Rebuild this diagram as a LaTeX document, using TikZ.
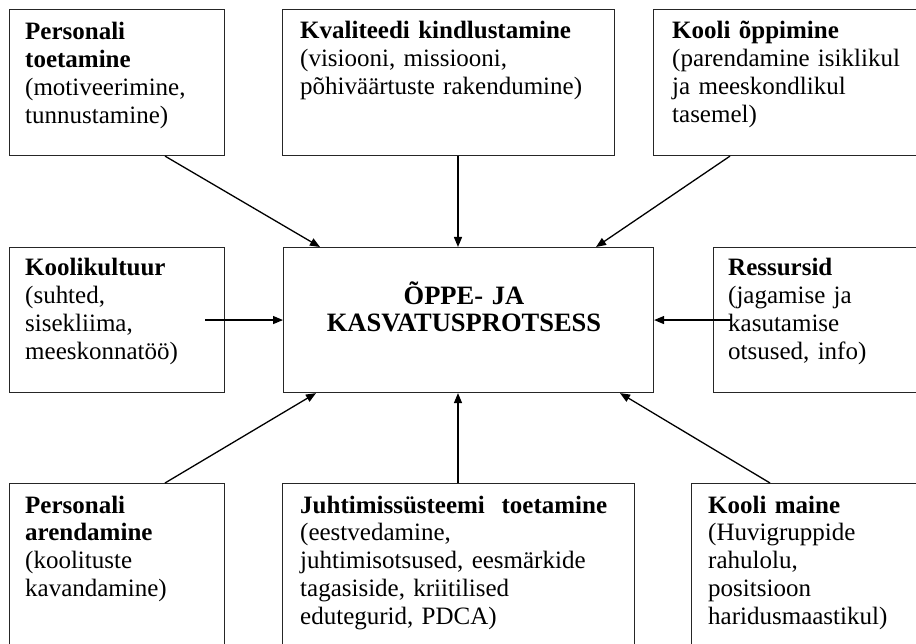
\documentclass[tikz,border=0pt]{standalone}
\usepackage{fontspec}
\setmainfont{Liberation Serif}
\usetikzlibrary{arrows.meta,calc}
\begin{document}
\begin{tikzpicture}[x=1pt,y=-1pt,
  box/.style={draw=black!85, line width=1.1pt, rectangle, inner sep=0pt, anchor=north west},
  lbl/.style={anchor=base west, inner sep=0pt, align=left, text width=340pt, font=\fontsize{25}{27.8}\selectfont},
  arr/.style={draw=black, line width=1.3pt, -{Triangle[length=10pt,width=8pt]}}]
\useasboundingbox (0,0) rectangle (916,644);
\fill[white] (0,0) rectangle (916,644);
% boxes
\node[box, minimum width=215pt, minimum height=146pt] (tl) at (9,9) {};
\node[box, minimum width=332pt, minimum height=146pt] (tm) at (282,9) {};
\node[box, minimum width=277pt, minimum height=146pt] (tr) at (653,9) {};
\node[box, minimum width=215pt, minimum height=145pt] (ml) at (9,247) {};
\node[box, minimum width=370pt, minimum height=145pt] (c) at (283,247) {};
\node[box, minimum width=217pt, minimum height=145pt] (mr) at (713,247) {};
\node[box, minimum width=215pt, minimum height=177pt] (bl) at (9,483) {};
\node[box, minimum width=352pt, minimum height=177pt] (bm) at (282,483) {};
\node[box, minimum width=239pt, minimum height=177pt] (br) at (691,483) {};
% texts
\node[lbl] (tlt) at (25,40) {\textbf{Personali}\\\textbf{toetamine}\\(motiveerimine,\\tunnustamine)};
\node[lbl] (tmt) at (300,39) {\textbf{Kvaliteedi kindlustamine}\\(visiooni, missiooni,\\põhiväärtuste rakendumine)};
\node[lbl] (trt) at (672,39) {\textbf{Kooli õppimine}\\(parendamine isiklikul\\ja meeskondlikul\\tasemel)};
\node[lbl] (mlt) at (25,276) {\textbf{Koolikultuur}\\(suhted,\\sisekliima,\\meeskonnatöö)};
\node[lbl] (mrt) at (728,276) {\textbf{Ressursid}\\(jagamise ja\\kasutamise\\otsused, info)};
\node[lbl] (blt) at (25,513) {\textbf{Personali}\\\textbf{arendamine}\\(koolituste\\kavandamine)};
\node[lbl] (bmt) at (300,513) {\textbf{Juhtimissüsteemi\ \ toetamine}\\(eestvedamine,\\juhtimisotsused, eesmärkide\\tagasiside, kriitilised\\edutegurid, PDCA)};
\node[lbl] (brt) at (708,513) {\textbf{Kooli maine}\\(Huvigruppide\\rahulolu,\\positsioon\\haridusmaastikul)};
\node[anchor=base, inner sep=0pt, align=center, text width=360pt, font=\fontsize{26.5}{26.5}\selectfont\bfseries] (ct) at (464,305) {ÕPPE- JA\\KASVATUSPROTSESS};
% arrows
\draw[arr] (165,0 |- tl.south) -- (320,0 |- c.north);
\draw[arr] (458,0 |- tm.south) -- (458,0 |- c.north);
\draw[arr] (730,0 |- tr.south) -- (596,0 |- c.north);
\draw[arr] ($(ml.east)+(-20,0)$) -- (c.west);
\draw[arr] ($(mr.west)+(18,0)$) -- (c.east);
\draw[arr] (165,0 |- bl.north) -- (316,0 |- c.south);
\draw[arr] (458,0 |- bm.north) -- (458,0 |- c.south);
\draw[arr] (770,0 |- br.north) -- (620,0 |- c.south);
\end{tikzpicture}
\end{document}
